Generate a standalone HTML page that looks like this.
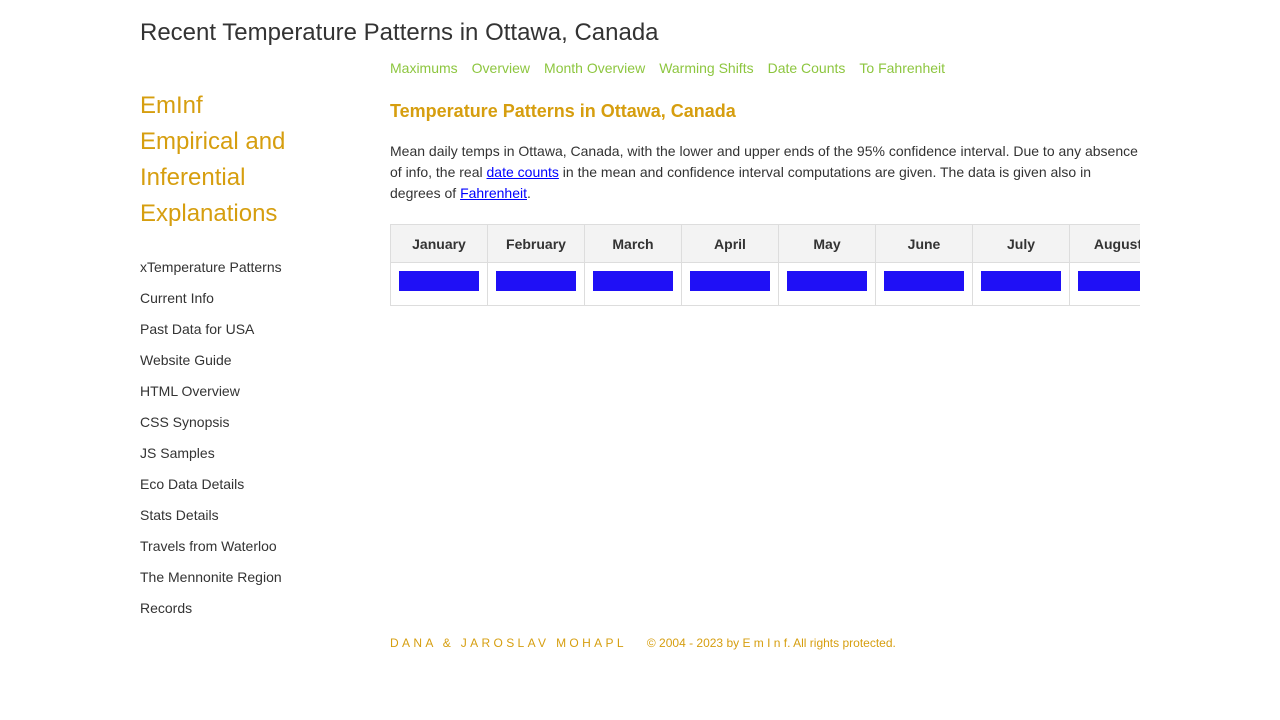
<!DOCTYPE html>
<html>
<head>
<meta charset="utf-8">
<style>
  html,body{margin:0;padding:0;width:1280px;height:720px;background:#fff;overflow:hidden;}
  body{font-family:"Liberation Sans",Arial,sans-serif;color:#333;position:relative;}
  .abs{position:absolute;}
  #title{left:140px;top:19px;font-size:24px;color:#333;white-space:nowrap;}
  #topnav{left:390px;top:60px;font-size:14px;white-space:nowrap;}
  #topnav a{color:#8dc63f;text-decoration:none;margin-right:14px;}
  #brand{left:140px;top:88px;font-size:24px;line-height:36px;color:#d69e0f;}
  #sidenav{left:140px;top:258px;font-size:14px;}
  #sidenav div{height:31px;line-height:18px;color:#333;}
  #h2{left:390px;top:101px;font-size:18px;font-weight:bold;color:#d69e0f;white-space:nowrap;}
  #desc{left:390px;top:141px;width:752px;font-size:14px;line-height:21px;color:#333;}
  #desc a{color:#00f;}
  #tablewrap{left:390px;top:224px;width:750px;height:83px;overflow:hidden;}
  table{border-collapse:collapse;table-layout:fixed;width:873px;}
  th,td{border:1px solid #ddd;width:96px;padding:0;}
  th{background:#f3f3f3;height:37px;font-size:14px;font-weight:bold;color:#333;text-align:center;}
  td{height:42px;vertical-align:top;}
  .bar{margin:8px 0 0 8px;height:20px;background:#1f10f6;}
  #footer{left:390px;top:636px;font-size:12px;color:#d69e0f;white-space:nowrap;}
  #footer .names{letter-spacing:3.35px;margin-right:20px;}
</style>
</head>
<body>
<div id="title" class="abs">Recent Temperature Patterns in Ottawa, Canada</div>
<div id="topnav" class="abs">
  <a href="#">Maximums</a><a href="#">Overview</a><a href="#">Month Overview</a><a href="#">Warming Shifts</a><a href="#">Date Counts</a><a href="#">To Fahrenheit</a>
</div>
<div id="brand" class="abs">EmInf<br>Empirical and<br>Inferential<br>Explanations</div>
<div id="sidenav" class="abs">
  <div>xTemperature Patterns</div>
  <div>Current Info</div>
  <div>Past Data for USA</div>
  <div>Website Guide</div>
  <div>HTML Overview</div>
  <div>CSS Synopsis</div>
  <div>JS Samples</div>
  <div>Eco Data Details</div>
  <div>Stats Details</div>
  <div>Travels from Waterloo</div>
  <div>The Mennonite Region</div>
  <div>Records</div>
</div>
<div id="h2" class="abs">Temperature Patterns in Ottawa, Canada</div>
<div id="desc" class="abs">Mean daily temps in Ottawa, Canada, with the lower and upper ends of the 95% confidence interval. Due to any absence of info, the real <a href="#">date counts</a> in the mean and confidence interval computations are given. The data is given also in degrees of <a href="#">Fahrenheit</a>.</div>
<div id="tablewrap" class="abs">
  <table>
    <tr id="headrow"></tr>
    <tr id="barrow"></tr>
  </table>
</div>
<div id="footer" class="abs"><span class="names">DANA &amp; JAROSLAV MOHAPL</span>© 2004 - 2023 by E m I n f. All rights protected.</div>
<script>
const months = ["January","February","March","April","May","June","July","August","September"];
const barValues = [1,1,1,1,1,1,1,1,1];
const barMax = 1;
function barWidth(v){ return v / barMax * 80; }
const headrow = document.getElementById('headrow');
const barrow = document.getElementById('barrow');
months.forEach(function(m, i){
  const th = document.createElement('th');
  th.textContent = m;
  
  
  headrow.appendChild(th);
  const td = document.createElement('td');
  
  
  const b = document.createElement('div');
  b.className = 'bar';
  b.style.width = barWidth(barValues[i]) + 'px';
  
  
  td.appendChild(b);
  barrow.appendChild(td);
});
</script>
</body>
</html>
